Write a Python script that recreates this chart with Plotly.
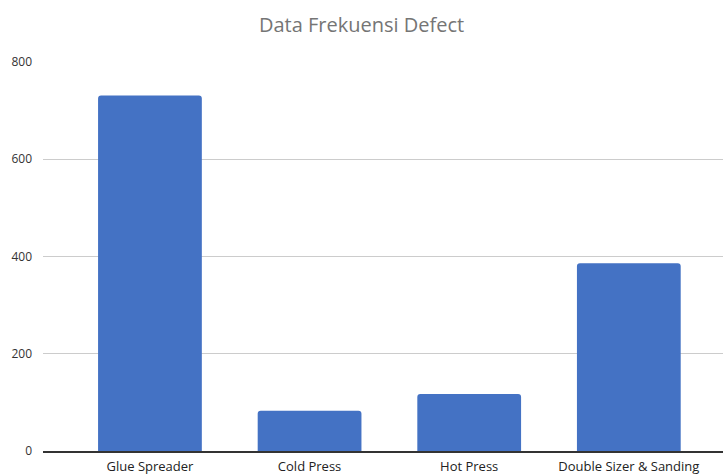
import plotly.graph_objects as go

categories = ["Glue Spreader", "Cold Press", "Hot Press", "Double Sizer & Sanding"]
values = [731, 83, 117, 386]
y_ticks = [0, 200, 400, 600, 800]

fig = go.Figure(go.Bar(
    x=list(range(len(categories))), y=values,
    marker=dict(color="#4472C4", line=dict(width=0)),
    width=0.65,
))
fig.update_layout(
    width=723, height=475,
    margin=dict(l=43, r=0, t=62, b=22),
    paper_bgcolor="white", plot_bgcolor="white",
    barcornerradius=3,
    title=dict(text="Data Frekuensi Defect", x=0.5, xanchor="center", y=1 - 25 / 475, yanchor="middle",
               font=dict(family="Open Sans", size=20, color="#757575")),
    font=dict(family="Open Sans", size=12, color="#444444"),
    showlegend=False,
)
fig.update_xaxes(
    range=[-0.67, 3.59], tickmode="array", tickvals=list(range(len(categories))), ticktext=categories,
    showgrid=False, showline=True, linecolor="#333333", linewidth=2, zeroline=False,
    ticks="", ticklabelstandoff=2, tickfont=dict(size=13, color="#222222"),
)
fig.update_yaxes(
    range=[0, 800], tickmode="array", tickvals=y_ticks,
    showgrid=True, gridcolor="#CCCCCC", gridwidth=1, zeroline=False, showline=False,
    ticks="", ticklabelstandoff=10, tickfont=dict(size=12, color="#333333"),
)
fig.write_html("out.html", config={"displayModeBar": False},
               post_script="document.body.style.margin='0';document.body.style.overflow='hidden';")
